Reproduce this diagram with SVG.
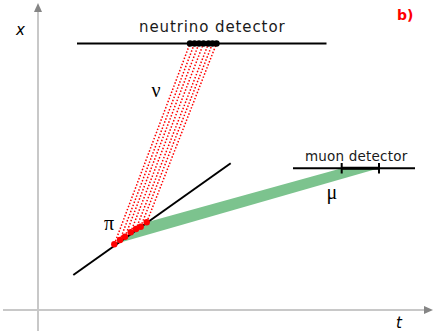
<svg xmlns="http://www.w3.org/2000/svg" width="436" height="335" viewBox="0 0 436 335">
<defs>
<style>
.axis{stroke:#c8c8c8;stroke-width:2;fill:none}
.arrowhead{fill:#858585}
.det{stroke:#000;stroke-width:2;fill:none}
.nu{stroke:#ff0000;stroke-width:1.5;stroke-dasharray:1.5 1.8;fill:none}
.lbl{font-family:"DejaVu Sans","Liberation Sans",sans-serif;fill:#1a1a1a}
.greek{font-family:"Liberation Serif","DejaVu Serif",serif;fill:#000}
.ital{font-family:"DejaVu Sans","Liberation Sans",sans-serif;font-style:italic;font-size:15px;fill:#000}
</style>
</defs>
<rect width="436" height="335" fill="#fff"/>
<g id="axes">
<line class="axis" x1="38" y1="331" x2="38" y2="10"/>
<polygon class="arrowhead" points="38,3 34,12 42,12"/>
<line class="axis" x1="3" y1="310" x2="426" y2="310"/>
<polygon class="arrowhead" points="433,310 424,306 424,314"/>
<text class="ital" x="16" y="35">x</text>
<text class="ital" x="396" y="328">t</text>
</g>
<text x="397" y="20" font-family="'DejaVu Sans','Liberation Sans',sans-serif" font-weight="bold" font-size="14" fill="#ff0000">b)</text>
<g id="muon">
<polygon points="114.3,244.3 146.7,222.3 341.7,168.3 379,168.3" fill="#7cc38e"/>
<text class="greek" x="326.5" y="199" font-size="20">μ</text>
</g>
<g id="connectors">
<line class="nu" x1="114.3" y1="244.3" x2="190" y2="43.5"/>
<line class="nu" x1="120" y1="240" x2="194.5" y2="43.5"/>
<line class="nu" x1="125" y1="236.7" x2="199" y2="43.5"/>
<line class="nu" x1="130.7" y1="232.3" x2="203.5" y2="43.5"/>
<line class="nu" x1="136" y1="229" x2="208.5" y2="43.5"/>
<line class="nu" x1="140.7" y1="226.7" x2="212.5" y2="43.5"/>
<line class="nu" x1="146.7" y1="222.3" x2="216.5" y2="43.5"/>
</g>
<g id="pion">
<line class="det" x1="73.3" y1="275" x2="230.7" y2="163.3"/>
<g fill="#ff0000">
<circle cx="114.3" cy="244.3" r="3.2"/>
<circle cx="120" cy="240" r="3.2"/>
<circle cx="125" cy="236.7" r="3.2"/>
<circle cx="130.7" cy="232.3" r="3.2"/>
<circle cx="136" cy="229" r="3.2"/>
<circle cx="140.7" cy="226.7" r="3.2"/>
<circle cx="146.7" cy="222.3" r="3.2"/>
</g>
<text class="greek" x="104" y="230" font-size="20">π</text>
</g>
<g id="neutrino-detector">
<line class="det" x1="77" y1="43.5" x2="326.5" y2="43.5"/>
<g fill="#000">
<circle cx="190" cy="43.5" r="3.2"/>
<circle cx="194.5" cy="43.5" r="3.2"/>
<circle cx="199" cy="43.5" r="3.2"/>
<circle cx="203.5" cy="43.5" r="3.2"/>
<circle cx="208.5" cy="43.5" r="3.2"/>
<circle cx="212.5" cy="43.5" r="3.2"/>
<circle cx="216.5" cy="43.5" r="3.2"/>
</g>
<text class="lbl" x="139" y="32.3" font-size="15" letter-spacing="0.9">neutrino detector</text>
<text class="greek" x="151.5" y="97.3" font-size="20">ν</text>
</g>
<g id="muon-detector">
<line class="det" x1="293" y1="168.3" x2="415" y2="168.3"/>
<line x1="341.7" y1="168.3" x2="379" y2="168.3" stroke="#000" stroke-width="3"/>
<line x1="341.7" y1="163" x2="341.7" y2="173.5" stroke="#000" stroke-width="2"/>
<line x1="379" y1="163" x2="379" y2="173.5" stroke="#000" stroke-width="2"/>
<text class="lbl" x="305" y="161" font-size="13.5" letter-spacing="0.2">muon detector</text>
</g>
</svg>
